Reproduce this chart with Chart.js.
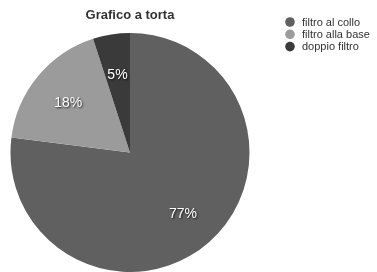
<!DOCTYPE html>
<html>
<head>
<meta charset="utf-8">
<script src="https://cdn.jsdelivr.net/npm/chart.js@4/dist/chart.umd.min.js"></script>
<style>
  html, body { margin: 0; padding: 0; background: #fff; overflow: hidden; }
  #wrap { width: 377px; height: 272px; position: relative; }
</style>
</head>
<body>
<div id="wrap"><canvas id="pie"></canvas></div>
<script>
const labels = ["filtro al collo", "filtro alla base", "doppio filtro"];
const values = [77, 18, 5];
const colors = ["#606060", "#9b9b9b", "#3a3a3a"];
const title = "Grafico a torta";

const FONT = "'Liberation Sans', Arial, Helvetica, sans-serif";

// title, legend and % labels drawn by hand to match the original placement
const decorations = {
  id: "decorations",
  afterDatasetsDraw(chart) {
    const ctx = chart.ctx;
    const meta = chart.getDatasetMeta(0);
    const total = values.reduce((a, b) => a + b, 0);

    ctx.save();
    ctx.textAlign = "center";
    ctx.textBaseline = "middle";
    ctx.font = "14px " + FONT;
    meta.data.forEach((arc, i) => {
      const mid = (arc.startAngle + arc.endAngle) / 2;
      const r = arc.outerRadius * 0.67;
      const x = arc.x + Math.cos(mid) * r;
      const y = arc.y + Math.sin(mid) * r + 2;
      const txt = Math.round(values[i] / total * 100) + "%";
      ctx.shadowColor = "rgba(0,0,0,0.8)";
      ctx.shadowBlur = 2;
      ctx.shadowOffsetX = 1;
      ctx.shadowOffsetY = 1;
      ctx.fillStyle = "#ffffff";
      ctx.fillText(txt, x, y);
    });
    ctx.restore();

    ctx.save();
    ctx.fillStyle = "#333";
    ctx.font = "bold 13px " + FONT;
    ctx.textAlign = "center";
    ctx.textBaseline = "middle";
    ctx.fillText(title, meta.data[0].x, 15);

    ctx.font = "11px " + FONT;
    ctx.textAlign = "left";
    labels.forEach((lab, i) => {
      const y = 22 + i * 12.3;
      ctx.fillStyle = colors[i];
      ctx.beginPath();
      ctx.arc(290, y, 4.8, 0, Math.PI * 2);
      ctx.fill();
      ctx.fillStyle = "#333";
      ctx.fillText(lab, 302, y + 0.5);
    });
    ctx.restore();
  }
};

new Chart(document.getElementById("pie"), {
  type: "pie",
  data: {
    labels,
    datasets: [{
      data: values,
      backgroundColor: colors,
      borderWidth: 0
    }]
  },
  options: {
    responsive: true,
    maintainAspectRatio: false,
    animation: false,
    layout: { padding: { left: 10, right: 127, top: 33, bottom: -1 } },
    plugins: {
      legend: { display: false },
      title: { display: false },
      tooltip: { enabled: false }
    }
  },
  plugins: [decorations]
});
</script>
</body>
</html>
